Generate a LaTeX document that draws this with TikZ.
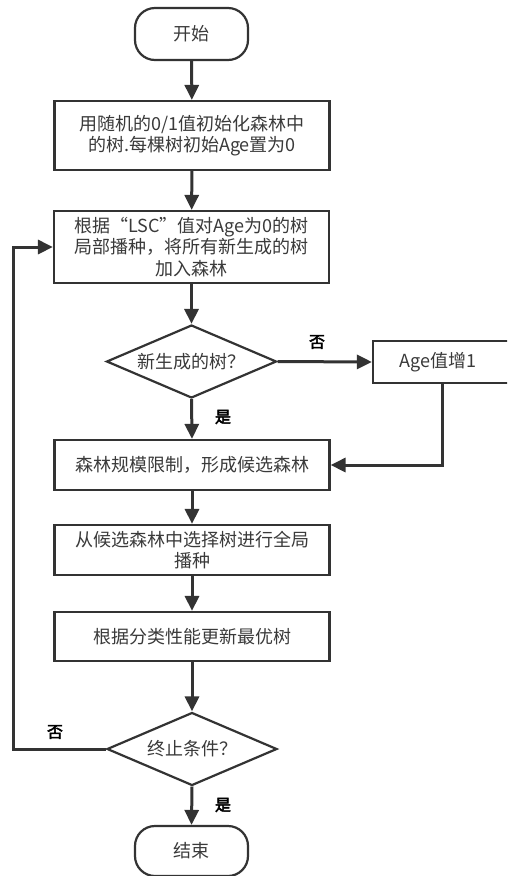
\documentclass[tikz,border=0pt]{standalone}
\usepackage{fontspec}
\setmainfont{Noto Sans CJK SC}
\newfontfamily\boldcjk[FakeBold=3]{Noto Sans CJK SC}
\usetikzlibrary{shapes.geometric,arrows.meta}
\definecolor{ink}{HTML}{333333}
\definecolor{txt}{HTML}{3a3a3a}
\begin{document}
\begin{tikzpicture}[x=1pt,y=-1pt,
  base/.style={draw=ink, line width=2.2pt, inner sep=0pt, align=center, text=txt,
    font=\fontsize{18}{21.5}\selectfont},
  box/.style={base, rectangle, minimum width=275pt},
  term/.style={base, rectangle, rounded corners=20pt, minimum width=113pt},
  dia/.style={base, diamond, aspect=2.3, minimum width=170pt, minimum height=73pt},
  arr/.style={draw=ink, line width=3pt, -{Triangle[length=15pt,width=14pt]}},
  lbl/.style={font=\boldcjk\fontsize{16}{16}\selectfont, text=black}
]
\clip (0,0) rectangle (507,876);
\fill[white] (0,0) rectangle (507,876);

\node[term, minimum height=52pt] (start) at (191.5,34) {开始};
\node[box, minimum height=69pt] (b1) at (192,135.5) {用随机的0/1值初始化森林中\\的树.每棵树初始Age置为0};
\node[box, minimum height=72pt] (b2) at (191.5,247) {根据“LSC”值对Age为0的树\\局部播种，将所有新生成的树\\加入森林};
\node[dia] (d1) at (191.5,361.5) {新生成的树？};
\node[box, minimum width=138pt, minimum height=42pt] (age) at (442,362) {\hspace*{-4pt}Age值增1\hspace*{4pt}};
\node[box, minimum height=50pt] (b3) at (192,465) {森林规模限制，形成候选森林};
\node[box, minimum height=50pt] (b4) at (192,550) {从候选森林中选择树进行全局\\播种};
\node[box, minimum height=49pt] (b5) at (192,636.5) {根据分类性能更新最优树};
\node[dia] (d2) at (192,749) {终止条件？};
\node[term, minimum height=50pt] (end) at (191.5,851) {结束};

\coordinate (lp) at (13,749);

\draw[arr] (start) -- (b1);
\draw[arr] (b1) -- (b2);
\draw[arr] (b2) -- (d1);
\draw[arr] (d1.east) -- (age.west);
\draw[arr] (d1.south) -- (b3.north);
\draw[arr] (age.south) |- (b3.east);
\draw[arr] (b3) -- (b4);
\draw[arr] (b4) -- (b5);
\draw[arr] (b5.south) -- (d2.north);
\draw[arr] (d2.south) -- (end.north);
\draw[arr] (d2.west) -- (lp) |- (b2.west);

\node[lbl] (no1) at (317,342) {否};
\node[lbl] (yes1) at (223,417) {是};
\node[lbl] (no2) at (55,732) {否};
\node[lbl] (yes2) at (223,805) {是};
\end{tikzpicture}
\end{document}
